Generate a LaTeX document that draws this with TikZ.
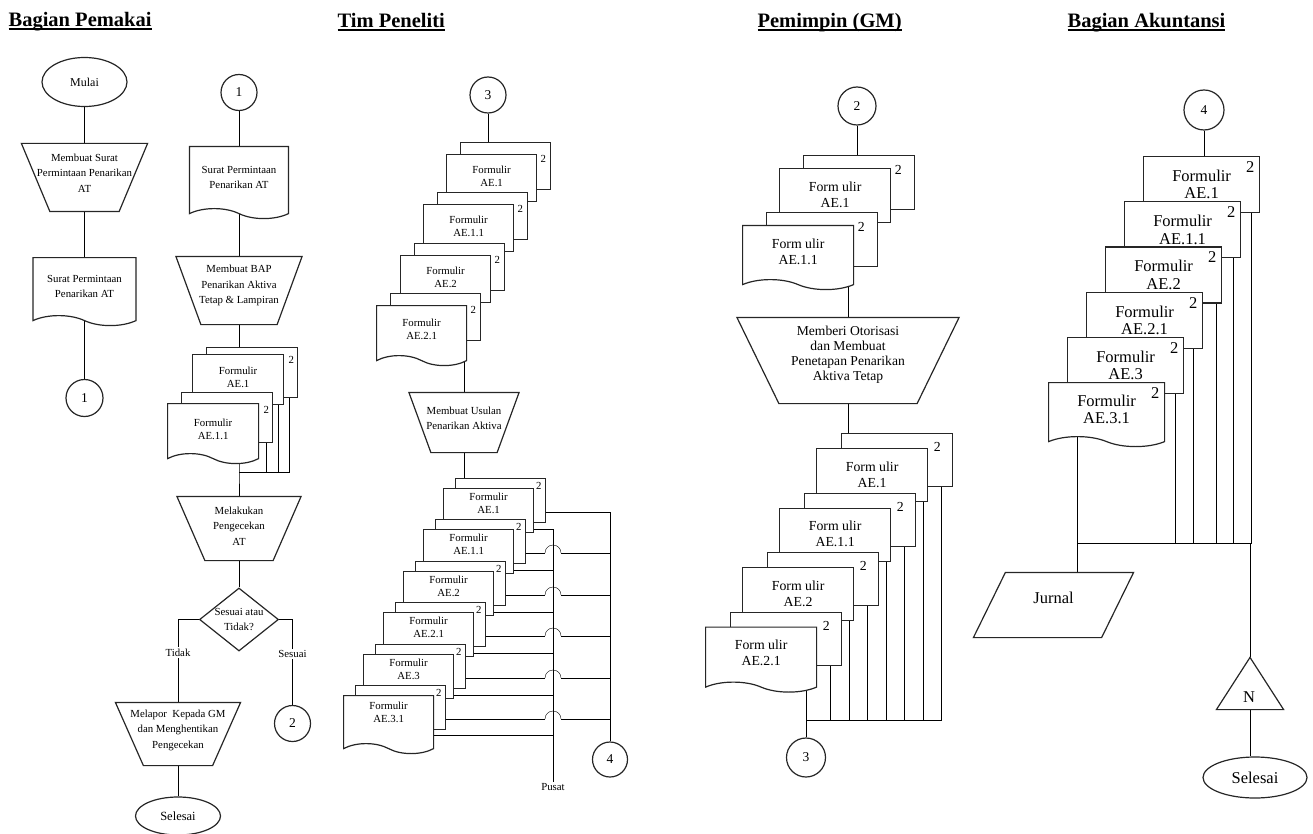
\documentclass[tikz,border=0pt]{standalone}
\usepackage{fontspec}
\setmainfont{Liberation Serif}
\usepackage{tikz}
\usetikzlibrary{shapes.geometric,shapes.symbols,calc,backgrounds,positioning}
\newcommand{\garis}[1]{\setbox0\hbox{#1}\rlap{\rule[-3pt]{\wd0}{1.5pt}}\box0}

\begin{document}
\begin{tikzpicture}[x=1pt,y=-1pt,line width=1.2pt,color=black!85,
  every node/.style={inner sep=1pt,align=center,text=black},
  judul/.style={anchor=base west,inner sep=0pt,font=\fontsize{20.5}{24}\selectfont\bfseries},
  fa/.style={font=\fontsize{10.8}{13}\selectfont},
  fp/.style={font=\fontsize{10.8}{15.5}\selectfont},
  fn/.style={font=\fontsize{13.5}{15}\selectfont},
  fb/.style={font=\fontsize{13.8}{16}\selectfont},
  fc/.style={font=\fontsize{16.5}{17.5}\selectfont},
  lembar/.style={draw,fill=white,rectangle,inner sep=0pt,anchor=north west},
  lembarw/.style={draw,fill=white,tape,tape bend top=none,tape bend bottom=out and in,tape bend height=10pt,inner sep=0pt,anchor=north west},
  bulat/.style={draw,fill=white,circle,inner sep=0pt,fn},
  oval/.style={draw,fill=white,ellipse,inner sep=0pt},
  bidang/.style={rectangle,inner sep=0pt},
  ket/.style={fill=white,inner sep=1.5pt,fp},
  lbB/.style={minimum width=91pt,minimum height=50pt},
  lbC/.style={minimum width=90pt,minimum height=47pt},
  lbD/.style={minimum width=90pt,minimum height=44pt},
  lbE/.style={minimum width=111pt,minimum height=54pt},
  lbF/.style={minimum width=111pt,minimum height=53pt},
  lbG/.style={minimum width=116pt,minimum height=56pt}]
\useasboundingbox (0,0) rectangle (1313,834);
% judul kolom
\node[judul] (hPemakai) at (8,27) {\garis{Bagian Pemakai}};
\node[judul] (hPeneliti) at (337,28) {\garis{Tim Peneliti}};
\node[judul] (hPimpin) at (757,28) {\garis{Pemimpin (GM)}};
\node[judul] (hAkun) at (1067,28) {\garis{Bagian Akuntansi}};

% bagian pemakai, kiri
\node[oval,font=\fontsize{12}{14}\selectfont,minimum width=85pt,minimum height=49pt] (mulai) at (84.5,82) {Mulai};
\node[bidang,minimum width=125pt,minimum height=67pt] (tA) at (84.5,177.5) {};
\draw (tA.north west) -- (tA.north east) -- ([xshift=-28.5pt]tA.south east) -- ([xshift=28.5pt]tA.south west) -- cycle;
\node[fp] (xtA) at ([yshift=4.5pt]tA.center) {Membuat Surat\\Permintaan Penarikan\\AT};
\node[lembarw,fp,anchor=north,minimum width=103pt,minimum height=68pt] (dA) at (84.5,257) {Surat Permintaan\\Penarikan AT};
\node[bulat,minimum size=37pt] (cA) at (84.5,398) {1};

% bagian pemakai, kanan
\node[bulat,minimum size=36pt] (c1B) at (239,92.5) {1};
\node[lembarw,fp,anchor=north,minimum width=99pt,minimum height=72pt] (dB) at (239,146) {Surat Permintaan\\Penarikan AT};
\node[bidang,minimum width=125pt,minimum height=67pt] (tB) at (239,290.5) {};
\draw (tB.north west) -- (tB.north east) -- ([xshift=-25pt]tB.south east) -- ([xshift=25pt]tB.south west) -- cycle;
\node[fp] (xtB) at ([yshift=5pt]tB.center) {Membuat BAP\\Penarikan Aktiva\\Tetap \& Lampiran};
\node[lembar,lbB] (bB1) at (206,347) {};
\node[lembar,lbB] (fB1) at (192,354) {};
\node[fa] (xB1) at ([yshift=-23.5pt]fB1.north) {Formulir\\AE.1};
\node[fa] (kB1) at ([xshift=7pt,yshift=-6pt]fB1.north east) {2};
\node[lembar,lbB] (bB2) at (181,392) {};
\node[lembarw,minimum width=91pt,minimum height=60pt] (fB2) at (167,403) {};
\node[fa] (xB2) at ([yshift=-26pt]fB2.north) {Formulir\\AE.1.1};
\node[fa] (kB2) at ([xshift=7pt,yshift=-7pt]fB2.north east) {2};
\coordinate (busB) at (239,472);
\node[bidang,minimum width=123pt,minimum height=63pt] (tC) at (239,528.5) {};
\draw (tC.north west) -- (tC.north east) -- ([xshift=-28pt]tC.south east) -- ([xshift=28pt]tC.south west) -- cycle;
\node[fp] (xtC) at ([yshift=2.5pt]tC.center) {Melakukan\\Pengecekan\\AT};
\node[draw,fill=white,diamond,aspect=1.25,inner sep=0pt,minimum width=79pt,minimum height=63pt,fp] (dia) at (239,619.5) {Sesuai atau\\Tidak?};
\node[bulat,minimum size=36pt] (c2B) at (292.5,723.5) {2};
\node[bidang,minimum width=124pt,minimum height=62pt] (tD) at (178,734) {};
\draw (tD.north west) -- (tD.north east) -- ([xshift=-28pt]tD.south east) -- ([xshift=28pt]tD.south west) -- cycle;
\node[fp] (xtD) at ([yshift=4pt]tD.center) {Melapor~ Kepada GM\\dan Menghentikan\\Pengecekan};
\node[oval,font=\fontsize{12.5}{14}\selectfont,minimum width=85pt,minimum height=38pt] (selA) at (178,816) {Selesai};

% tim peneliti
\node[bulat,minimum size=36pt] (c3C) at (488,95) {3};
\node[lembar,lbC] (bC1) at (460,142) {};
\node[lembar,lbC] (fC1) at (446,154) {};
\node[fa] (xC1) at ([yshift=-22pt]fC1.north) {Formulir\\AE.1};
\node[fa] (kC1) at ([xshift=6pt,yshift=-5pt]fC1.north east) {2};
\node[lembar,lbC] (bC2) at (437,192) {};
\node[lembar,lbC] (fC2) at (423,204) {};
\node[fa] (xC2) at ([yshift=-22pt]fC2.north) {Formulir\\AE.1.1};
\node[fa] (kC2) at ([xshift=6pt,yshift=-5pt]fC2.north east) {2};
\node[lembar,lbC] (bC3) at (414,243) {};
\node[lembar,lbC] (fC3) at (400,255) {};
\node[fa] (xC3) at ([yshift=-22pt]fC3.north) {Formulir\\AE.2};
\node[fa] (kC3) at ([xshift=6pt,yshift=-5pt]fC3.north east) {2};
\node[lembar,lbC] (bC4) at (390,293) {};
\node[lembarw,minimum width=90pt,minimum height=60pt] (fC4) at (376,305) {};
\node[fa] (xC4) at ([yshift=-24.5pt]fC4.north) {Formulir\\AE.2.1};
\node[fa] (kC4) at ([xshift=6pt,yshift=-5pt]fC4.north east) {2};
\node[bidang,minimum width=109pt,minimum height=59pt] (tU) at (464,422.5) {};
\draw (tU.north west) -- (tU.north east) -- ([xshift=-22pt]tU.south east) -- ([xshift=22pt]tU.south west) -- cycle;
\node[fp] (xtU) at ([yshift=4pt]tU.center) {Membuat Usulan\\Penarikan Aktiva};
\node[lembar,lbD] (bD1) at (455,478) {};
\node[lembar,lbD] (fD1) at (443,488) {};
\node[fa] (xD1) at ([yshift=-15.5pt]fD1.north) {Formulir\\AE.1};
\node[fa] (kD1) at ([xshift=4.5pt,yshift=2pt]fD1.north east) {2};
\node[lembar,lbD] (bD2) at (435,519) {};
\node[lembar,lbD] (fD2) at (423,529) {};
\node[fa] (xD2) at ([yshift=-15.5pt]fD2.north) {Formulir\\AE.1.1};
\node[fa] (kD2) at ([xshift=4.5pt,yshift=2pt]fD2.north east) {2};
\node[lembar,lbD] (bD3) at (415,561) {};
\node[lembar,lbD] (fD3) at (403,571) {};
\node[fa] (xD3) at ([yshift=-15.5pt]fD3.north) {Formulir\\AE.2};
\node[fa] (kD3) at ([xshift=4.5pt,yshift=2pt]fD3.north east) {2};
\node[lembar,lbD] (bD4) at (395,602) {};
\node[lembar,lbD] (fD4) at (383,612) {};
\node[fa] (xD4) at ([yshift=-15.5pt]fD4.north) {Formulir\\AE.2.1};
\node[fa] (kD4) at ([xshift=4.5pt,yshift=2pt]fD4.north east) {2};
\node[lembar,lbD] (bD5) at (375,644) {};
\node[lembar,lbD] (fD5) at (363,654) {};
\node[fa] (xD5) at ([yshift=-15.5pt]fD5.north) {Formulir\\AE.3};
\node[fa] (kD5) at ([xshift=4.5pt,yshift=2pt]fD5.north east) {2};
\node[lembar,lbD] (bD6) at (355,685) {};
\node[lembarw,minimum width=90pt,minimum height=58pt] (fD6) at (343,695) {};
\node[fa] (xD6) at ([yshift=-17pt]fD6.north) {Formulir\\AE.3.1};
\node[fa] (kD6) at ([xshift=4.5pt,yshift=2pt]fD6.north east) {2};
\node[fa] (psat) at (553,787) {Pusat};
\node[bulat,minimum size=35pt] (c4C) at (610,759.5) {4};

% pemimpin (GM)
\node[bulat,minimum size=38pt] (c2D) at (857,106) {2};
\node[lembar,lbE] (bE1) at (803,155) {};
\node[lembar,lbE] (fE1) at (779,168) {};
\node[fb] (xE1) at ([yshift=-26.5pt]fE1.north) {Form ulir\\AE.1};
\node[fb] (kE1) at ([xshift=7pt,yshift=-2pt]fE1.north east) {2};
\node[lembar,lbE] (bE2) at (766,212) {};
\node[lembarw,minimum width=111pt,minimum height=64pt] (fE2) at (742,225) {};
\node[fb] (xE2) at ([yshift=-26.5pt]fE2.north) {Form ulir\\AE.1.1};
\node[fb] (kE2) at ([xshift=7pt,yshift=-2pt]fE2.north east) {2};
\node[bidang,minimum width=221pt,minimum height=85pt] (tO) at (848,360.5) {};
\draw (tO.north west) -- (tO.north east) -- ([xshift=-42pt]tO.south east) -- ([xshift=42pt]tO.south west) -- cycle;
\node[font=\fontsize{13.6}{15}\selectfont] (xtO) at ([yshift=6pt]tO.center) {Memberi Otorisasi\\dan Membuat\\Penetapan Penarikan\\Aktiva Tetap};
\node[lembar,lbF] (bF1) at (841,433) {};
\node[lembar,lbF] (fF1) at (816,448) {};
\node[fb] (xF1) at ([yshift=-26.5pt]fF1.north) {Form ulir\\AE.1};
\node[fb] (kF1) at ([xshift=9pt,yshift=1pt]fF1.north east) {2};
\node[lembar,lbF] (bF2) at (804,492.5) {};
\node[lembar,lbF] (fF2) at (779,507.5) {};
\node[fb] (xF2) at ([yshift=-26.5pt]fF2.north) {Form ulir\\AE.1.1};
\node[fb] (kF2) at ([xshift=9pt,yshift=1pt]fF2.north east) {2};
\node[lembar,lbF] (bF3) at (767,552) {};
\node[lembar,lbF] (fF3) at (742,567) {};
\node[fb] (xF3) at ([yshift=-26.5pt]fF3.north) {Form ulir\\AE.2};
\node[fb] (kF3) at ([xshift=9pt,yshift=1pt]fF3.north east) {2};
\node[lembar,lbF] (bF4) at (730,611.5) {};
\node[lembarw,minimum width=111pt,minimum height=65pt] (fF4) at (705,626.5) {};
\node[fb] (xF4) at ([yshift=-26.5pt]fF4.north) {Form ulir\\AE.2.1};
\node[fb] (kF4) at ([xshift=9pt,yshift=1pt]fF4.north east) {2};
\coordinate (busF) at (806,720);
\node[bulat,minimum size=39pt] (c3D) at (806,757.5) {3};

% bagian akuntansi
\node[bulat,minimum size=40pt] (c4E) at (1204,110) {4};
\node[lembar,lbG,fc] (gG1) at (1143,156) {Formulir\\AE.1};
\node[fc] (kG1) at ([xshift=-10pt,yshift=-11pt]gG1.north east) {2};
\node[lembar,lbG,fc] (gG2) at (1124,201.2) {Formulir\\AE.1.1};
\node[fc] (kG2) at ([xshift=-10pt,yshift=-11pt]gG2.north east) {2};
\node[lembar,lbG,fc] (gG3) at (1105,246.4) {Formulir\\AE.2};
\node[fc] (kG3) at ([xshift=-10pt,yshift=-11pt]gG3.north east) {2};
\node[lembar,lbG,fc] (gG4) at (1086,291.6) {Formulir\\AE.2.1};
\node[fc] (kG4) at ([xshift=-10pt,yshift=-11pt]gG4.north east) {2};
\node[lembar,lbG,fc] (gG5) at (1067,336.8) {Formulir\\AE.3};
\node[fc] (kG5) at ([xshift=-10pt,yshift=-11pt]gG5.north east) {2};
\node[lembarw,fc,minimum width=116pt,minimum height=64pt] (gG6) at (1048,382) {Formulir\\AE.3.1};
\node[fc] (kG6) at ([xshift=-10pt,yshift=-11pt]gG6.north east) {2};
\coordinate (busG) at (1077,543);
\node[bidang,minimum width=159pt,minimum height=64pt] (jur) at (1053.5,605) {};
\draw ([xshift=32pt]jur.north west) -- (jur.north east) -- ([xshift=-32pt]jur.south east) -- (jur.south west) -- cycle;
\node[fc] (xjur) at ([yshift=7pt]jur.center) {Jurnal};
\node[bidang,minimum width=66pt,minimum height=51pt] (segi) at (1250,683.5) {};
\draw (segi.north) -- (segi.south east) -- (segi.south west) -- cycle;
\node[fc] (xsegi) at (1249,697) {N};
\node[oval,fc,minimum width=104pt,minimum height=41pt] (selE) at (1255,777.5) {Selesai};

% garis penghubung
\begin{scope}[on background layer]
\draw (mulai.south) -- (tA.north); \draw (tA.south) -- (dA.north); \draw (dA.center) -- (cA);
\draw (c1B.south) -- (dB.north); \draw (dB.center) -- (tB); \draw (tB.south) -- (tB.south |- bB1.north);
\draw ([xshift=-9pt]bB1.south east) |- (busB); \draw ([xshift=-6pt]fB1.south east) |- (busB);
\draw ([xshift=-7pt]bB2.south east) |- (busB); \draw (busB |- fB2.center) -- (busB) -- (tC.north);
\draw (tC) -- (dia); \draw (tD) -- (selA);
\draw (dia.west) -| node[ket,pos=.7] (lTidak) {Tidak} (tD.north);
\draw (dia.east) -| node[ket,pos=.7] (lSesuai) {Sesuai} (c2B);
\draw (c3C) -- (c3C |- bC1.north); \draw (tU.north |- fC4.center) -- (tU.north);
\draw (tU.south) -- (tU.south |- bD1.north);
\draw ([yshift=-34pt]bD1.north east) -| (c4C);
% loncatan di garis pusat
\draw let \p1=([yshift=-34pt]bD2.north east),\p2=(psat),\p3=(c4C) in (\p1) -- (\x2-8pt,\y1) (\x2+8pt,\y1) -- (\x3,\y1);
\draw let \p1=([yshift=-34pt]bD2.north east),\p2=(psat) in (\x2-8pt,\y1) arc[start angle=180,end angle=0,radius=8pt];
\draw let \p1=([yshift=-34pt]bD3.north east),\p2=(psat),\p3=(c4C) in (\p1) -- (\x2-8pt,\y1) (\x2+8pt,\y1) -- (\x3,\y1);
\draw let \p1=([yshift=-34pt]bD3.north east),\p2=(psat) in (\x2-8pt,\y1) arc[start angle=180,end angle=0,radius=8pt];
\draw let \p1=([yshift=-34pt]bD4.north east),\p2=(psat),\p3=(c4C) in (\p1) -- (\x2-8pt,\y1) (\x2+8pt,\y1) -- (\x3,\y1);
\draw let \p1=([yshift=-34pt]bD4.north east),\p2=(psat) in (\x2-8pt,\y1) arc[start angle=180,end angle=0,radius=8pt];
\draw let \p1=([yshift=-34pt]bD5.north east),\p2=(psat),\p3=(c4C) in (\p1) -- (\x2-8pt,\y1) (\x2+8pt,\y1) -- (\x3,\y1);
\draw let \p1=([yshift=-34pt]bD5.north east),\p2=(psat) in (\x2-8pt,\y1) arc[start angle=180,end angle=0,radius=8pt];
\draw let \p1=([yshift=-34pt]bD6.north east),\p2=(psat),\p3=(c4C) in (\p1) -- (\x2-8pt,\y1) (\x2+8pt,\y1) -- (\x3,\y1);
\draw let \p1=([yshift=-34pt]bD6.north east),\p2=(psat) in (\x2-8pt,\y1) arc[start angle=180,end angle=0,radius=8pt];
\draw ([yshift=-41pt]fD1.north east) -| (psat); \draw ([yshift=-41pt]fD2.north east) -| (psat);
\draw ([yshift=-41pt]fD3.north east) -| (psat); \draw ([yshift=-41pt]fD4.north east) -| (psat);
\draw ([yshift=-41pt]fD5.north east) -| (psat); \draw ([yshift=-40pt]fD6.north east) -| (psat);
\draw (c2D) -- (c2D |- bE1.north); \draw (tO.north |- fE2.center) -- (tO.north);
\draw (tO.south) -- (tO.south |- bF1.north);
\draw ([xshift=-12pt]bF1.south east) |- (busF); \draw ([xshift=-5pt]fF1.south east) |- (busF);
\draw ([xshift=-12pt]bF2.south east) |- (busF); \draw ([xshift=-5pt]fF2.south east) |- (busF);
\draw ([xshift=-12pt]bF3.south east) |- (busF); \draw ([xshift=-5pt]fF3.south east) |- (busF);
\draw ([xshift=-12pt]bF4.south east) |- (busF); \draw (busF |- fF4.center) -- (busF) -- (c3D);
\draw (c4E) -- (c4E |- gG1.north);
\draw ([xshift=-9pt]gG1.south east) |- (busG); \draw ([xshift=-8pt]gG2.south east) |- (busG);
\draw ([xshift=-6pt]gG3.south east) |- (busG); \draw ([xshift=-10pt]gG4.south east) |- (busG);
\draw ([xshift=-9pt]gG5.south east) |- (busG); \draw (busG |- gG6.center) -- (busG) -- (busG |- jur.north);
\draw (segi.north |- busG) -- (segi.north); \draw (segi.south) -- (segi.south |- selE.north);
\end{scope}
\end{tikzpicture}
\end{document}
